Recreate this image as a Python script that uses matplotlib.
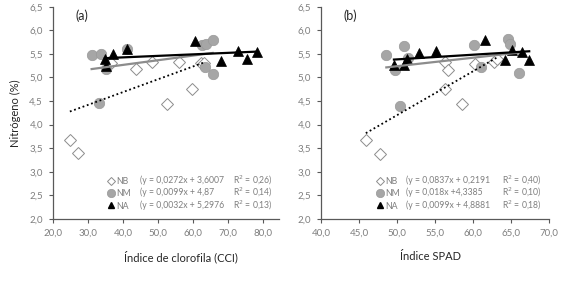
import numpy as np
import matplotlib
matplotlib.use("Agg")
import matplotlib.pyplot as plt
from matplotlib.ticker import FuncFormatter, MultipleLocator
from matplotlib.lines import Line2D

plt.rcParams['font.family'] = ['Lato', 'DejaVu Sans']

# ---- panel (a): CCI ----
cci_nb_x = [24.9, 27.3, 36.5, 43.7, 48.2, 52.6, 56.0, 59.8, 62.4, 63.1]
cci_nb_y = [3.67, 3.40, 5.30, 5.18, 5.32, 4.43, 5.32, 4.76, 5.30, 5.30]
cci_nm_x = [31.1, 33.7, 33.2, 35.1, 41.1, 62.6, 63.8, 65.6, 63.4, 65.6]
cci_nm_y = [5.47, 5.49, 4.46, 5.17, 5.60, 5.68, 5.70, 5.80, 5.22, 5.08]
cci_na_x = [34.9, 35.3, 37.1, 41.1, 60.5, 68.0, 72.9, 75.4, 78.3]
cci_na_y = [5.40, 5.25, 5.50, 5.60, 5.78, 5.35, 5.57, 5.39, 5.54]
# trendlines (slope, intercept) as drawn
cci_trend = {"NB": (0.0272, 3.6007), "NM": (0.0099, 4.87), "NA": (0.0032, 5.2976)}
cci_eq = ["(y = 0,0272x + 3,6007", "(y = 0,0099x + 4,87", "(y = 0,0032x + 5,2976"]
cci_r2 = ["R$^2$ = 0,26)", "R$^2$ = 0,14)", "R$^2$ = 0,13)"]

# ---- panel (b): SPAD ----
spad_nb_x = [45.9, 47.8, 56.3, 56.7, 56.3, 58.5, 60.3, 62.8, 63.1]
spad_nb_y = [3.67, 3.38, 5.32, 5.16, 4.76, 4.44, 5.28, 5.32, 5.40]
spad_nm_x = [48.6, 50.9, 51.5, 49.8, 50.4, 60.2, 64.6, 64.9, 61.1, 66.0]
spad_nm_y = [5.48, 5.67, 5.41, 5.15, 4.40, 5.69, 5.81, 5.70, 5.22, 5.09]
spad_na_x = [49.6, 50.9, 51.3, 52.9, 55.2, 61.6, 64.2, 65.2, 66.5, 67.4]
spad_na_y = [5.27, 5.27, 5.39, 5.51, 5.57, 5.80, 5.36, 5.58, 5.53, 5.37]
spad_trend = {"NB": (0.093, -0.45), "NM": (0.018, 4.3385), "NA": (0.0099, 4.8881)}
spad_eq = ["(y = 0,0837x + 0,2191", "(y = 0,018x +4,3385", "(y = 0,0099x + 4,8881"]
spad_r2 = ["R$^2$ = 0,40)", "R$^2$ = 0,10)", "R$^2$ = 0,18)"]

series_names = ["NB", "NM", "NA"]

grey_txt = "#7f7f7f"
axis_col = "#595959"
circle_col = "#a6a6a6"

comma = FuncFormatter(lambda v, p: f"{v:.1f}".replace(".", ","))

fig = plt.figure(figsize=(5.67, 2.85), dpi=100)
ax1 = fig.add_axes([0.0929, 0.2316, 0.3997, 0.7449])
ax2 = fig.add_axes([0.5661, 0.2316, 0.4021, 0.7449])


def draw_panel(ax, nb, nm, na, trend, eqs, r2s, xlim, xstep, tag, xlabel, xlab_pos,
               leg_x, eq_x):
    ax.plot(nb[0], nb[1], ls="none", marker="D", ms=6.5, mfc="white",
            mec="#8c8c8c", mew=0.7, zorder=3)
    ax.plot(nm[0], nm[1], ls="none", marker="o", ms=7.5, mfc=circle_col,
            mec="#999999", mew=0.5, zorder=4)
    ax.plot(na[0], na[1], ls="none", marker="^", ms=7.5, mfc="black",
            mec="black", mew=0.5, zorder=5)

    styles = {"NB": dict(color="black", ls=(0, (1, 1.5)), lw=1.3),
              "NM": dict(color="#8c8c8c", ls="-", lw=1.6),
              "NA": dict(color="black", ls="-", lw=1.6)}
    for name, pts in zip(series_names, [nb, nm, na]):
        xs = np.array([min(pts[0]), max(pts[0])])
        m, b = trend[name]
        ax.plot(xs, m * xs + b, zorder=6, **styles[name])

    ax.set_xlim(*xlim)
    ax.set_ylim(2.0, 6.5)
    ax.xaxis.set_major_locator(MultipleLocator(xstep))
    ax.yaxis.set_major_locator(MultipleLocator(0.5))
    ax.xaxis.set_major_formatter(comma)
    ax.yaxis.set_major_formatter(comma)
    for s in ["top", "right"]:
        ax.spines[s].set_visible(False)
    for s in ["left", "bottom"]:
        ax.spines[s].set_color(axis_col)
        ax.spines[s].set_linewidth(0.9)
    ax.tick_params(direction="out", length=3, width=0.8, color=axis_col,
                   labelsize=7, labelcolor=grey_txt, pad=4)

    ax.text(0.10, 0.985, tag, transform=ax.transAxes, fontsize=9,
            color="#262626", va="top", ha="left")
    ax.set_xlabel(xlabel, fontsize=8, color="#262626")
    ax.xaxis.set_label_coords(xlab_pos, -0.15)

    handles = [
        Line2D([], [], ls="none", marker="D", ms=4, mfc="white", mec="#8c8c8c", mew=0.7),
        Line2D([], [], ls="none", marker="o", ms=6, mfc=circle_col, mec="#999999", mew=0.5),
        Line2D([], [], ls="none", marker="^", ms=5, mfc="black", mec="black"),
    ]
    leg = ax.legend(handles, series_names, loc="lower left",
                    bbox_to_anchor=(leg_x, 0.011), frameon=False, fontsize=6.3,
                    handlelength=0.8, handletextpad=0.2, labelspacing=0.38,
                    borderpad=0.2)
    for t in leg.get_texts():
        t.set_color(grey_txt)
    ys = [0.184, 0.124, 0.066]
    for y, eq, r2 in zip(ys, eqs, r2s):
        ax.text(eq_x, y, eq, transform=ax.transAxes, fontsize=6.2,
                color=grey_txt, va="center", ha="left")
        ax.text(0.97, y, r2, transform=ax.transAxes, fontsize=6.2,
                color=grey_txt, va="center", ha="right")


draw_panel(ax1, (cci_nb_x, cci_nb_y), (cci_nm_x, cci_nm_y), (cci_na_x, cci_na_y),
           cci_trend, cci_eq, cci_r2, (20, 84.6), 10, "(a)",
           "Índice de clorofila (CCI)", 0.565, 0.215, 0.385)
draw_panel(ax2, (spad_nb_x, spad_nb_y), (spad_nm_x, spad_nm_y), (spad_na_x, spad_na_y),
           spad_trend, spad_eq, spad_r2, (40, 70), 5, "(b)",
           "Índice SPAD", 0.48, 0.215, 0.375)

ax1.set_ylabel("Nitrógeno (%)", fontsize=8, color="#262626")
ax1.yaxis.set_label_coords(-0.14, 0.5)

fig.savefig("out.png", dpi=100)
